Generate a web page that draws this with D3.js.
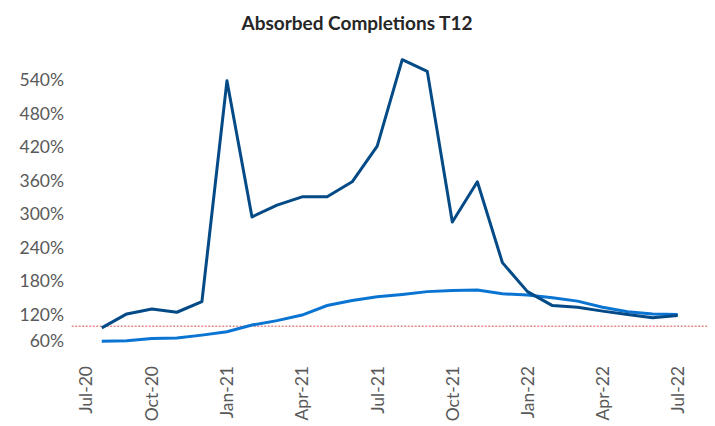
<!DOCTYPE html>
<html>
<head>
<meta charset="utf-8">
<script src="https://cdn.jsdelivr.net/npm/d3@7"></script>
<style>
  body { margin: 0; background: #fff; }
  svg { display: block; }
  .tick text { font-family: Lato, "Open Sans", sans-serif; font-size: 17.5px; fill: #595959; }
  .title { font-family: Lato, "Open Sans", sans-serif; font-size: 19px; font-weight: bold; fill: #262626; }
</style>
</head>
<body>
<svg width="715" height="426"></svg>
<script>
// months on the axis, Jul-20 .. Jul-22 (index 0..24)
var monthLabels = ['Jul-20','Aug-20','Sep-20','Oct-20','Nov-20','Dec-20','Jan-21','Feb-21','Mar-21','Apr-21','May-21','Jun-21',
    'Jul-21','Aug-21','Sep-21','Oct-21','Nov-21','Dec-21','Jan-22','Feb-22','Mar-22','Apr-22','May-22','Jun-22','Jul-22'];
var xTicks = [0, 3, 6, 9, 12, 15, 18, 21, 24];
var yTicks = [60, 120, 180, 240, 300, 360, 420, 480, 540];

// series start Aug-20 (index 1)
var darkSeries = [97,122,131,125,144,540,296,317,332,332,359,423,578,557,287,359,214,162,137,134,127,121,115,119];
var lightSeries = [73,74,78,79,84,90,102,110,120,137,146,153,157,162,164,165,158,156,151,145,134,126,122,121];
var refValue = 100;
var refSpan = [-0.2, 25.2];

var svg = d3.select('svg');

var x = d3.scaleLinear().domain([0, 24]).range([76.7, 677.7]);
var y = d3.scaleLinear().domain([60, 560]).range([348.5, 69.7]);

svg.append('text')
    .attr('class', 'title')
    .attr('x', 357)
    .attr('y', 30)
    .attr('text-anchor', 'middle')
    .text('Absorbed Completions T12');

// y axis labels (lowest label sits at the plot bottom, like the original)
var yAxis = svg.append('g')
    .attr('transform', 'translate(64,0)')
    .call(d3.axisLeft(y).tickValues(yTicks).tickSize(0).tickPadding(0)
        .tickFormat(function(d){ return d + '%'; }));
yAxis.select('.domain').remove();
yAxis.selectAll('.tick')
    .attr('transform', function(d){ return 'translate(0,' + Math.min(y(d), y(72.5)) + ')'; });

// x axis labels (rotated)
var xAxis = svg.append('g')
    .attr('transform', 'translate(0,366)')
    .call(d3.axisBottom(x).tickValues(xTicks).tickSize(0).tickPadding(0)
        .tickFormat(function(d){ return monthLabels[d]; }));
xAxis.select('.domain').remove();
xAxis.selectAll('.tick')
    .attr('transform', function(d){ return 'translate(' + Math.max(x(d), x(0.37)) + ',0)'; });
xAxis.selectAll('.tick text')
    .attr('transform', 'rotate(-90)')
    .attr('text-anchor', 'end')
    .attr('x', 0)
    .attr('y', 0)
    .attr('dy', '0.36em');

// 100% reference line
svg.append('line')
    .attr('x1', x(refSpan[0]))
    .attr('x2', x(refSpan[1]))
    .attr('y1', y(refValue))
    .attr('y2', y(refValue))
    .attr('stroke', '#d9534f')
    .attr('stroke-width', 1)
    .attr('stroke-dasharray', '2,1.5');

var line = d3.line()
    .x(function(d, i){ return x(i + 1); })
    .y(function(d){ return y(d); });

svg.append('path')
    .datum(lightSeries)
    .attr('d', line)
    .attr('fill', 'none')
    .attr('stroke', '#0a74d2')
    .attr('stroke-width', 3);

svg.append('path')
    .datum(darkSeries)
    .attr('d', line)
    .attr('fill', 'none')
    .attr('stroke', '#034a86')
    .attr('stroke-width', 3)
    .attr('stroke-linejoin', 'round');
</script>
</body>
</html>
